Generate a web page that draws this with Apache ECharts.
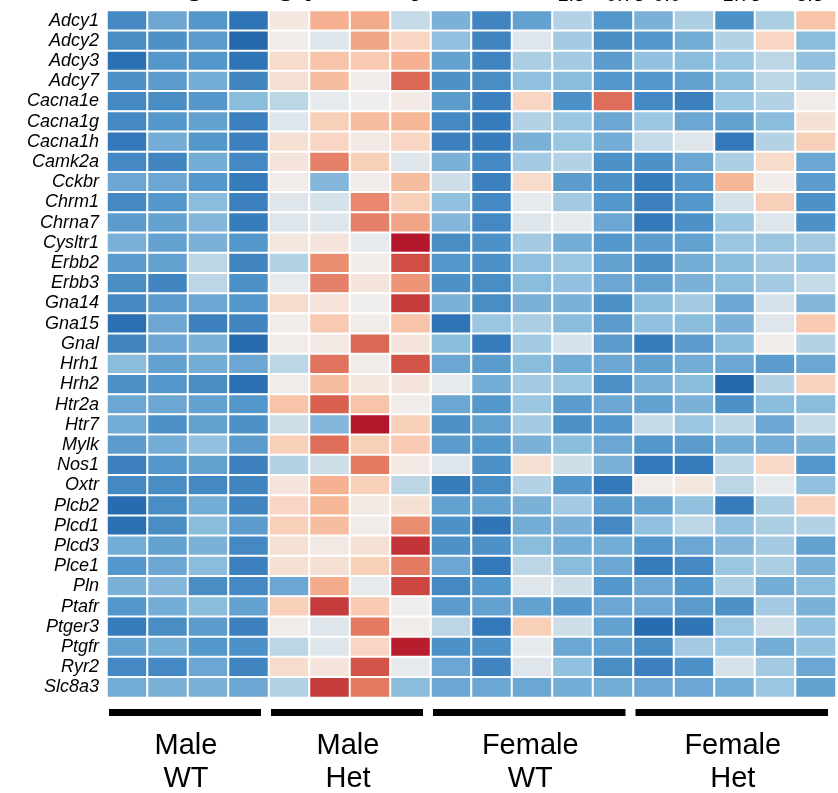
<!DOCTYPE html>
<html>
<head>
<meta charset="utf-8">
<script src="https://cdn.jsdelivr.net/npm/echarts@6/dist/echarts.min.js"></script>
<style>
html, body { margin: 0; padding: 0; background: #fff; }
#main { width: 838px; height: 793px; }
</style>
</head>
<body>
<div id="main"></div>
<script>
// genes, top to bottom
var genes = ['Adcy1', 'Adcy2', 'Adcy3', 'Adcy7', 'Cacna1e', 'Cacna1g', 'Cacna1h', 'Camk2a',
    'Cckbr', 'Chrm1', 'Chrna7', 'Cysltr1', 'Erbb2', 'Erbb3', 'Gna14', 'Gna15', 'Gnal',
    'Hrh1', 'Hrh2', 'Htr2a', 'Htr7', 'Mylk', 'Nos1', 'Oxtr', 'Plcb2', 'Plcd1', 'Plcd3',
    'Plce1', 'Pln', 'Ptafr', 'Ptger3', 'Ptgfr', 'Ryr2', 'Slc8a3'];

var groupNames = ['Male\nWT', 'Male\nHet', 'Female\nWT', 'Female\nHet'];

// z-scores per gene (rows) and sample (columns) for each group
var maleWT = [
    [-1.1, -0.8, -0.95, -1.35], [-1.05, -1.0, -0.9, -1.5], [-1.4, -0.95, -0.95, -1.35],
    [-1.0, -0.9, -0.75, -1.15], [-1.1, -1.05, -0.95, -0.6], [-1.1, -0.95, -0.85, -1.2],
    [-1.3, -0.75, -0.95, -1.2], [-1.1, -1.15, -0.75, -1.1], [-0.8, -0.8, -0.95, -1.25],
    [-1.1, -0.95, -0.6, -1.2], [-0.9, -0.85, -0.65, -1.25], [-0.7, -0.85, -0.7, -0.95],
    [-0.9, -0.85, -0.3, -1.15], [-1.05, -1.15, -0.3, -1.0], [-1.1, -0.9, -0.8, -0.95],
    [-1.4, -0.8, -1.2, -1.15], [-1.15, -0.8, -0.7, -1.45], [-0.6, -0.85, -0.75, -0.8],
    [-1.0, -0.95, -1.05, -1.4], [-0.8, -0.8, -0.85, -0.95], [-0.75, -1.0, -0.85, -1.0],
    [-0.9, -0.75, -0.55, -0.9], [-1.2, -0.95, -0.85, -1.2], [-1.1, -1.05, -1.1, -1.15],
    [-1.45, -1.05, -0.75, -1.15], [-1.4, -1.05, -0.6, -0.9], [-0.75, -0.85, -0.7, -1.1],
    [-0.95, -0.8, -0.6, -1.2], [-0.7, -0.65, -1.05, -1.1], [-0.95, -0.75, -0.6, -0.85],
    [-1.25, -1.05, -0.9, -1.2], [-0.85, -0.75, -0.95, -1.0], [-1.1, -1.1, -0.8, -1.15],
    [-0.75, -0.7, -0.7, -0.8]
];
var maleHet = [
    [0.15, 1.1, 1.2, -0.25], [0.05, -0.1, 1.3, 0.5], [0.4, 0.8, 0.7, 1.1],
    [0.3, 0.9, 0.05, 2.3], [-0.3, -0.05, 0.0, 0.1], [-0.1, 0.6, 0.9, 1.0],
    [0.3, 0.5, 0.1, 0.5], [0.2, 1.9, 0.6, -0.1], [0.05, -0.65, 0.05, 0.9],
    [-0.1, -0.15, 1.8, 0.6], [-0.1, -0.1, 1.9, 1.3], [0.15, 0.2, -0.05, 3.5],
    [-0.35, 1.7, 0.05, 2.7], [-0.05, 1.9, 0.2, 1.6], [0.4, 0.25, 0.0, 3.0],
    [0.05, 0.7, 0.05, 0.8], [0.05, 0.1, 2.3, 0.2], [-0.3, 2.1, 0.05, 2.6],
    [0.05, 0.9, 0.15, 0.2], [0.8, 2.4, 0.8, 0.05], [-0.2, -0.65, 3.5, 0.6],
    [0.6, 2.2, 0.6, 0.7], [-0.35, -0.2, 2.0, 0.1], [0.2, 1.1, 0.6, -0.3],
    [0.5, 1.0, 0.1, 0.3], [0.6, 0.9, 0.05, 1.7], [0.3, 0.1, 0.3, 3.1],
    [0.3, 0.3, 0.6, 2.0], [-0.8, 1.2, -0.05, 2.8], [0.6, 3.0, 0.7, 0.0],
    [0.05, -0.1, 2.0, 0.05], [-0.3, -0.1, 0.5, 3.4], [0.4, 0.2, 2.6, -0.05],
    [-0.35, 3.0, 2.0, -0.6]
];
var femaleWT = [
    [-0.7, -1.15, -0.85, -0.35, -0.95], [-0.55, -1.15, -0.1, -0.45, -1.05],
    [-0.85, -1.15, -0.4, -0.45, -0.9], [-1.0, -1.05, -0.55, -0.6, -0.95],
    [-0.9, -1.2, 0.5, -1.0, 2.2], [-1.1, -1.25, -0.35, -0.5, -0.8],
    [-1.2, -1.25, -0.7, -0.5, -0.75], [-0.7, -1.1, -0.45, -0.35, -1.0],
    [-0.2, -1.2, 0.4, -0.9, -1.0], [-0.55, -1.1, -0.05, -0.45, -0.95],
    [-0.65, -1.1, -0.1, -0.05, -0.8], [-1.05, -1.0, -0.45, -0.75, -0.95],
    [-0.95, -1.0, -0.55, -0.5, -0.85], [-1.0, -1.05, -0.6, -0.55, -0.8],
    [-0.7, -1.05, -0.7, -0.7, -1.0], [-1.35, -0.5, -0.4, -0.6, -0.9],
    [-0.6, -1.25, -0.45, -0.15, -0.9], [-0.8, -0.9, -0.6, -0.75, -0.8],
    [-0.05, -0.75, -0.45, -0.5, -1.0], [-0.8, -0.95, -0.5, -0.9, -0.8],
    [-1.0, -0.85, -0.45, -1.0, -0.95], [-0.9, -0.95, -0.7, -0.6, -0.8],
    [-0.1, -1.0, 0.3, -0.2, -0.7], [-1.25, -1.05, -0.35, -0.95, -1.3],
    [-0.85, -0.85, -0.7, -0.45, -0.9], [-1.0, -1.35, -0.75, -0.7, -1.1],
    [-1.0, -1.0, -0.6, -0.75, -0.75], [-0.8, -1.3, -0.3, -0.6, -0.8],
    [-1.1, -0.95, -0.1, -0.2, -0.95], [-0.9, -0.85, -0.85, -0.95, -0.8],
    [-0.3, -1.3, 0.6, -0.2, -0.85], [-1.0, -1.0, -0.05, -0.8, -0.85],
    [-0.8, -1.15, -0.1, -0.55, -1.05], [-0.8, -0.8, -0.8, -0.75, -0.75]
];
var femaleHet = [
    [-0.7, -0.4, -1.0, -0.4, 0.8], [-0.95, -0.75, -0.35, 0.5, -0.6],
    [-0.55, -0.6, -0.5, -0.3, -0.55], [-0.95, -0.85, -0.6, -0.3, -0.4],
    [-1.1, -1.2, -0.5, -0.35, 0.05], [-0.5, -0.8, -0.85, -0.6, 0.3],
    [-0.25, -0.1, -1.3, -0.35, 0.6], [-1.0, -0.8, -0.4, 0.4, -0.8],
    [-1.25, -0.95, 1.0, 0.05, -0.9], [-1.2, -0.95, -0.15, 0.6, -1.0],
    [-1.3, -1.0, -0.5, -0.1, -1.0], [-0.9, -0.85, -0.5, -0.5, -0.45],
    [-1.0, -0.75, -0.6, -0.45, -0.55], [-0.85, -0.7, -0.6, -0.45, -0.25],
    [-0.6, -0.45, -0.8, -0.15, -0.65], [-0.55, -0.6, -0.7, -0.1, 0.7],
    [-1.25, -0.9, -0.6, 0.05, -0.35], [-0.85, -0.75, -0.8, -0.9, -0.8],
    [-0.7, -0.6, -1.5, -0.35, 0.55], [-0.85, -0.7, -1.0, -0.6, -0.6],
    [-0.25, -0.5, -0.3, -0.8, -0.25], [-0.95, -0.9, -0.75, -0.75, -0.7],
    [-1.3, -1.25, -0.3, 0.45, -0.95], [0.05, 0.15, -0.3, -0.05, -0.55],
    [-0.85, -0.55, -1.25, -0.4, 0.55], [-0.55, -0.3, -0.55, -0.4, -0.35],
    [-0.95, -0.8, -0.65, -0.45, -0.85], [-1.25, -1.1, -0.5, -0.4, -0.7],
    [-0.8, -0.95, -0.4, -0.75, -0.6], [-0.8, -0.9, -1.0, -0.45, -0.7],
    [-1.45, -1.35, -0.5, -0.2, -0.55], [-1.05, -0.45, -0.5, -0.75, -0.55],
    [-1.2, -1.0, -0.15, -0.45, -0.8], [-0.8, -0.8, -0.75, -0.5, -0.85]
];

// colour key labels (mostly cut off at the top of the figure)
var keyLabels = ['-1.5', '-0.75', '0.0', '1.75', '3.5'];
var keyColors = ['#2367ad', '#4c92c8', '#9ac6e1', '#f0eeed', '#f9d6c3', '#f6b797',
    '#ef9a7c', '#e37b63', '#d65a4b', '#c63b3b', '#b4162b'];

var groups = [maleWT, maleHet, femaleWT, femaleHet];
var samples = [];
var groupRange = [];
var heatData = [];
var col = 0;
for (var g = 0; g < groups.length; g++) {
    var n = groups[g][0].length;
    groupRange.push([col, col + n - 1]);
    for (var j = 0; j < n; j++) {
        samples.push(groupNames[g].replace('\n', ' ') + ' ' + (j + 1));
        for (var r = 0; r < genes.length; r++) {
            heatData.push([col + j, r, groups[g][r][j]]);
        }
    }
    col += n;
}

var myChart = echarts.init(document.getElementById('main'));
var option = {
    animation: false,
    grid: { left: 107, top: 10.5, width: 729, height: 687 },
    xAxis: {
        type: 'category',
        data: samples,
        show: false
    },
    yAxis: {
        type: 'category',
        data: genes,
        inverse: true,
        axisLine: { show: false },
        axisTick: { show: false },
        splitLine: { show: false },
        axisLabel: {
            interval: 0,
            margin: 8,
            color: '#000',
            fontStyle: 'italic',
            fontSize: 18,
            fontFamily: 'Liberation Sans, Arial, sans-serif'
        }
    },
    visualMap: {
        show: false,
        type: 'continuous',
        min: -1.5,
        max: 3.5,
        dimension: 2,
        inRange: { color: keyColors }
    },
    series: [{
        type: 'heatmap',
        data: heatData,
        itemStyle: { borderColor: '#fff', borderWidth: 2 },
        emphasis: { disabled: true }
    }]
};
myChart.setOption(option);

// group bars + labels under the heatmap, placed from the axis scale
var cellW = myChart.convertToPixel({ xAxisIndex: 0 }, 1) - myChart.convertToPixel({ xAxisIndex: 0 }, 0);
var gridBottom = 10.5 + 687;
var gfx = [];
for (var k = 0; k < groupRange.length; k++) {
    var x0 = myChart.convertToPixel({ xAxisIndex: 0 }, groupRange[k][0]) - cellW / 2;
    var x1 = myChart.convertToPixel({ xAxisIndex: 0 }, groupRange[k][1]) + cellW / 2;
    gfx.push({
        type: 'rect',
        shape: { x: x0 + 2, y: gridBottom + 11.5, width: x1 - x0 - 10, height: 7 },
        style: { fill: '#000' }
    });
    gfx.push({
        type: 'text',
        x: (x0 + x1) / 2 - 2,
        y: gridBottom + 65,
        style: {
            text: groupNames[k],
            fill: '#000',
            font: '29px "Liberation Sans", Arial, sans-serif',
            align: 'center',
            verticalAlign: 'middle',
            lineHeight: 33
        }
    });
}
// title and key, cut off by the top edge
gfx.push({
    type: 'text', x: 30, y: -15,
    style: {
        text: 'Calcium signaling pathway', fill: '#000',
        font: 'bold 31px "Liberation Sans", Arial, sans-serif',
        align: 'left', verticalAlign: 'middle'
    }
});
var keyX = [568, 622, 667, 742, 810];
for (var m = 0; m < keyLabels.length; m++) {
    gfx.push({
        type: 'text', x: keyX[m], y: -5,
        style: {
            text: keyLabels[m], fill: '#000',
            font: '20px "Liberation Sans", Arial, sans-serif',
            align: 'center', verticalAlign: 'middle'
        }
    });
}
myChart.setOption({ graphic: gfx });
</script>
</body>
</html>
